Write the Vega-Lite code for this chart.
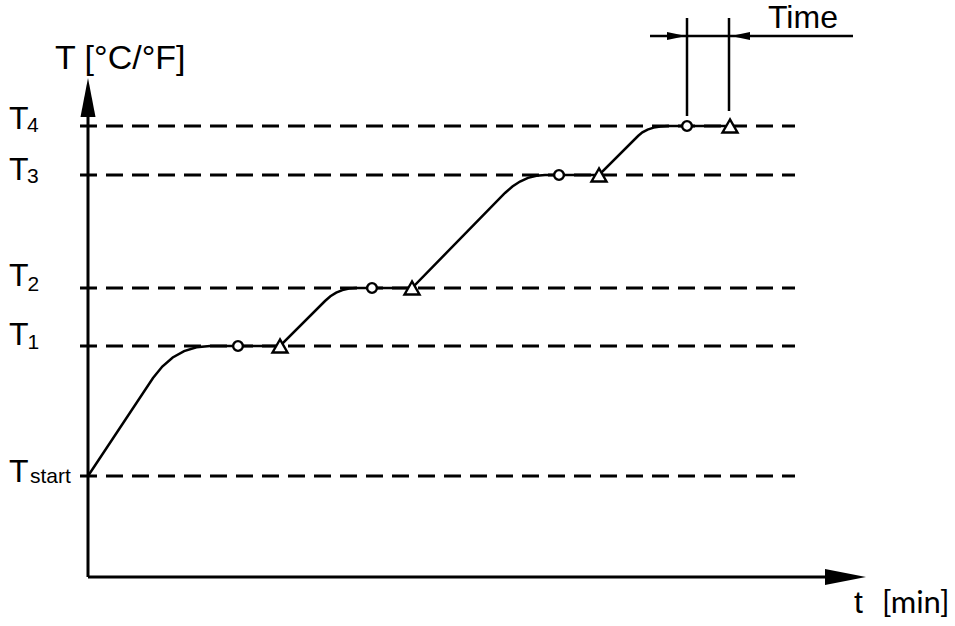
{
  "$schema": "https://vega.github.io/schema/vega-lite/v6.json",
  "width": 955,
  "height": 626,
  "autosize": {"type": "none"},
  "padding": 0,
  "background": "white",
  "config": {"view": {"stroke": null}},
  "datasets": {
    "levels": [
      {"name": "T4", "t": -8, "t_end": 707, "T": 451},
      {"name": "T3", "t": -8, "t_end": 707, "T": 402},
      {"name": "T2", "t": -8, "t_end": 707, "T": 289},
      {"name": "T1", "t": -8, "t_end": 707, "T": 231},
      {"name": "Tstart", "t": -8, "t_end": 707, "T": 101}
    ],
    "axes": [
      {"t": 0, "t_end": 0, "T": 0, "T_end": 477},
      {"t": 0, "t_end": 752, "T": 0, "T_end": 0}
    ],
    "timelines": [
      {"t": 599, "t_end": 599, "T": 461, "T_end": 559},
      {"t": 641, "t_end": 641, "T": 466, "T_end": 559},
      {"t": 562, "t_end": 765, "T": 541, "T_end": 541}
    ],
    "curve": [
      {"t": 0, "T": 101}, {"t": 65, "T": 199}, {"t": 74.3, "T": 210.5}, {"t": 84.7, "T": 219.5},
      {"t": 96.1, "T": 225.9}, {"t": 108.5, "T": 229.7}, {"t": 122, "T": 231}, {"t": 192, "T": 231},
      {"t": 237, "T": 276}, {"t": 242.4, "T": 280.7}, {"t": 248.2, "T": 284.3}, {"t": 254.4, "T": 286.9},
      {"t": 261, "T": 288.5}, {"t": 268, "T": 289}, {"t": 324, "T": 289},
      {"t": 417, "T": 384}, {"t": 424.4, "T": 390.5}, {"t": 432, "T": 395.5}, {"t": 440, "T": 399.1},
      {"t": 448.4, "T": 401.3}, {"t": 457, "T": 402}, {"t": 511, "T": 402},
      {"t": 550, "T": 441}, {"t": 554.4, "T": 444.6}, {"t": 559.6, "T": 447.4}, {"t": 565.6, "T": 449.4},
      {"t": 572.4, "T": 450.6}, {"t": 580, "T": 451}, {"t": 642, "T": 451}
    ],
    "circles": [
      {"t": 150, "T": 231}, {"t": 284, "T": 289}, {"t": 471, "T": 402}, {"t": 599, "T": 451}
    ],
    "triangles": [
      {"t": 192, "T": 231}, {"t": 324, "T": 289}, {"t": 511, "T": 402}, {"t": 642, "T": 451}
    ],
    "arrows": [
      {"kind": "up", "t": 0, "T": 479.5},
      {"kind": "right_axis", "t": 757.5, "T": 0},
      {"kind": "right", "t": 588.5, "T": 541},
      {"kind": "left", "t": 652.5, "T": 541}
    ],
    "leveltext": [
      {"label": "T", "t": -79, "T": 448},
      {"label": "T", "t": -79, "T": 397},
      {"label": "T", "t": -79, "T": 291},
      {"label": "T", "t": -79, "T": 232},
      {"label": "T", "t": -79, "T": 95},
      {"label": "Time", "t": 680, "T": 549},
      {"label": "t", "t": 766, "T": -36}
    ],
    "bigtext": [
      {"label": "T [°C/°F]", "t": -33, "T": 508}
    ],
    "subtext": [
      {"label": "4", "t": -61, "T": 445},
      {"label": "3", "t": -61, "T": 394},
      {"label": "2", "t": -60.5, "T": 286},
      {"label": "1", "t": -60.5, "T": 228},
      {"label": "start", "t": -58, "T": 94}
    ],
    "unit": [
      {"label": "[min]", "t": 794, "T": -36}
    ]
  },
  "encoding": {
    "x": {"field": "t", "type": "quantitative", "scale": {"domain": [-88, 867], "nice": false, "zero": false}, "axis": null},
    "y": {"field": "T", "type": "quantitative", "scale": {"domain": [-49, 577], "nice": false, "zero": false}, "axis": null}
  },
  "layer": [
    {
      "data": {"name": "levels"},
      "mark": {"type": "rule", "strokeDash": [17, 9], "strokeWidth": 3, "color": "black"},
      "encoding": {"x2": {"field": "t_end"}}
    },
    {
      "data": {"name": "axes"},
      "mark": {"type": "rule", "strokeWidth": 3, "color": "black"},
      "encoding": {"x2": {"field": "t_end"}, "y2": {"field": "T_end"}}
    },
    {
      "data": {"name": "timelines"},
      "mark": {"type": "rule", "strokeWidth": 2.5, "color": "black"},
      "encoding": {"x2": {"field": "t_end"}, "y2": {"field": "T_end"}}
    },
    {
      "data": {"name": "curve"},
      "mark": {"type": "line", "strokeWidth": 2.5, "color": "black"}
    },
    {
      "data": {"name": "circles"},
      "mark": {"type": "point", "shape": "circle", "size": 95, "filled": true, "fill": "white", "stroke": "black", "strokeWidth": 2.4, "opacity": 1}
    },
    {
      "data": {"name": "triangles"},
      "mark": {"type": "point", "shape": "triangle-up", "size": 225, "filled": true, "fill": "white", "stroke": "black", "strokeWidth": 2.4, "opacity": 1}
    },
    {
      "data": {"name": "arrows"},
      "transform": [{"filter": "datum.kind === 'up'"}],
      "mark": {"type": "point", "shape": "M0,-1L0.385,1L-0.385,1Z", "size": 1521, "filled": true, "color": "black", "opacity": 1}
    },
    {
      "data": {"name": "arrows"},
      "transform": [{"filter": "datum.kind === 'right_axis'"}],
      "mark": {"type": "point", "shape": "M1,0L-1,-0.39L-1,0.39Z", "size": 1681, "filled": true, "color": "black", "opacity": 1}
    },
    {
      "data": {"name": "arrows"},
      "transform": [{"filter": "datum.kind === 'right'"}],
      "mark": {"type": "point", "shape": "M1,0L-1,-0.42L-1,0.42Z", "size": 361, "filled": true, "color": "black", "opacity": 1}
    },
    {
      "data": {"name": "arrows"},
      "transform": [{"filter": "datum.kind === 'left'"}],
      "mark": {"type": "point", "shape": "M-1,0L1,-0.42L1,0.42Z", "size": 361, "filled": true, "color": "black", "opacity": 1}
    },
    {
      "data": {"name": "leveltext"},
      "mark": {"type": "text", "align": "left", "baseline": "alphabetic", "font": "Liberation Sans", "fontSize": 32, "color": "black"},
      "encoding": {"text": {"field": "label"}}
    },
    {
      "data": {"name": "bigtext"},
      "mark": {"type": "text", "align": "left", "baseline": "alphabetic", "font": "Liberation Sans", "fontSize": 34, "color": "black"},
      "encoding": {"text": {"field": "label"}}
    },
    {
      "data": {"name": "subtext"},
      "mark": {"type": "text", "align": "left", "baseline": "alphabetic", "font": "Liberation Sans", "fontSize": 21, "color": "black"},
      "encoding": {"text": {"field": "label"}}
    },
    {
      "data": {"name": "unit"},
      "mark": {"type": "text", "align": "left", "baseline": "alphabetic", "font": "Lato", "fontSize": 31, "color": "black"},
      "encoding": {"text": {"field": "label"}}
    }
  ]
}
